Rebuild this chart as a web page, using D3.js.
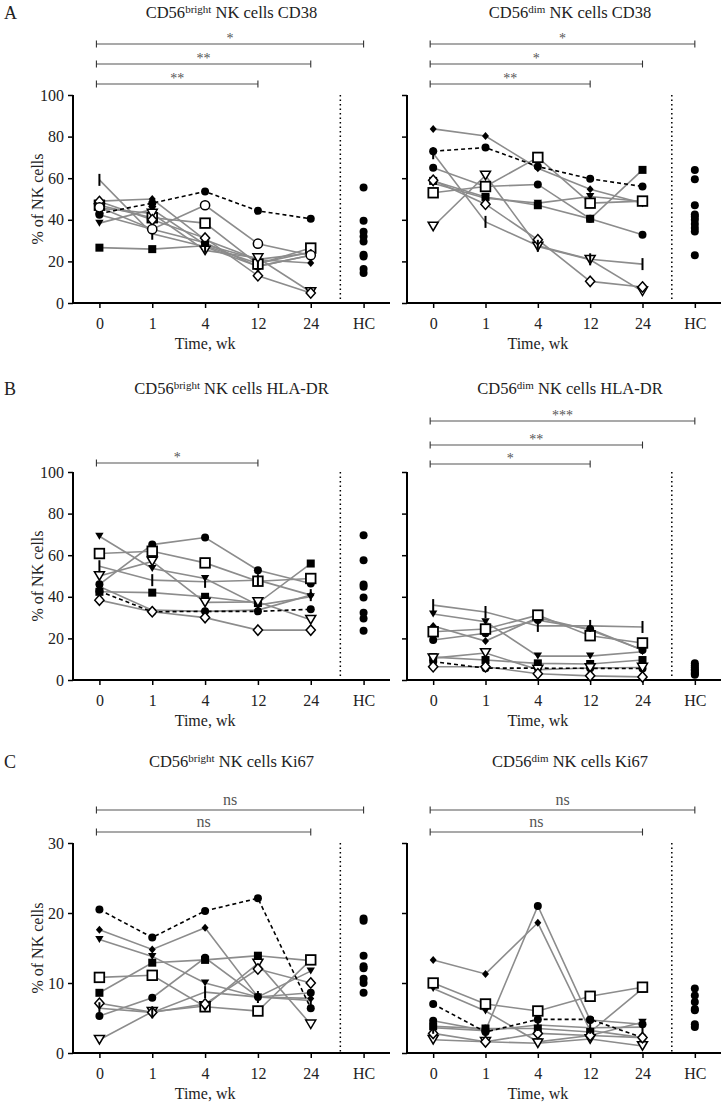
<!DOCTYPE html>
<html><head><meta charset="utf-8">
<script src="https://cdn.jsdelivr.net/npm/d3@7"></script>
<style>
body{margin:0;background:#fff;}
svg text{font-family:"Liberation Serif","Times New Roman","DejaVu Serif",serif !important;}
</style>
</head><body>
<svg id="chart" width="724" height="1102" font-family="Liberation Serif, Times New Roman, serif"></svg>
<script>
// ---------- DATA ----------
const categories = ['0','1','4','12','24','HC'];
const weeks = ['0','1','4','12','24'];
const patients = ['P1','P2','P3','P4','P5','P6','P7','P8','P9','P10'];

// values per patient at weeks 0,1,4,12,24 (null = not measured)
const cd38Bright = [
  [43, 48, 53.6, 44.3, 40.5],
  [42.4, 35.5, 29, 17.6, 23],
  [26.6, 25.9, 27.5, 19, 24.5],
  [38.4, 45, 28, 21, 24],
  [49, 50, 30.4, 20.8, 19.2],
  [47, 41, 38.4, 18.7, 26.4],
  [45.6, 43, 25.3, 21.6, 5.3],
  [48.8, 40, 31.2, 13.1, 4.8],
  [59.2, 33.3, 27, 17.6, 23],
  [46, 35.5, 47, 28.5, 23]
];
const cd38BrightHC = [55.5, 39.5, 34.2, 32, 29.6, 23.2, 22.4, 16.3, 14.4];

const cd38Dim = [
  [73, 74.7, 65.6, 59.7, 56],
  [65, 56, 57, 40.5, 32.8],
  [58.7, 51, 47, 40.5, 64],
  [57.6, 50.4, 48, 51.2, 48.8],
  [83.7, 80.3, 64.8, 54.7, 48],
  [53, 56, 70, 48, 49],
  [36.8, 61.3, 27.2, 20.8, 5.6],
  [59, 47.5, 30.4, 10.4, 7.7],
  [72, 39, 27.5, 21, 18.7],
  null
];
const cd38DimHC = [64, 59.5, 47, 42.5, 41.5, 40, 38, 36, 34.4, 23];

const hladrBright = [
  [42.7, 32.8, 33, 33, 34],
  [46, 65.1, 68.5, 52.8, 46.4],
  [42.4, 42, 40, 37, 56],
  [69.1, 53.6, 48.8, 36, 40],
  [45, 33.6, 33, 33.6, 40.8],
  [60.8, 61.9, 56.3, 47.5, 48.8],
  [50, 57, 37.3, 37.5, 29],
  [38.4, 32.8, 30, 24, 24],
  [54.7, 48, 47.2, 48, 40.8],
  null
];
const hladrBrightHC = [69.6, 57.6, 45.9, 44.8, 39.7, 32.3, 29.6, 23.7];

const hladrDim = [
  [8.8, 5.7, 5.7, 5.6, 5.5],
  [19.2, 22.5, 28.8, 24.5, 14.4],
  [11, 9.6, 8, 7.7, 9.6],
  [31.7, 28, 11.5, 11.5, 13.6],
  [26, 18.7, 30, 24, 14.4],
  [23.2, 24.5, 31.2, 21.3, 17.8],
  [10.5, 13, 5, 5.8, 6],
  [6.4, 6.4, 3, 2, 1.5],
  [36, 32.7, 26, 26, 25.5],
  null
];
const hladrDimHC = [8, 7, 6, 5, 4.5, 3.5, 3, 2.5];

const ki67Bright = [
  [20.5, 16.5, 20.3, 22.1, 6.4],
  [5.3, 7.9, 13.6, 8, 8.6],
  [8.6, 12.9, 13.3, 13.9, 13.2],
  [16.2, 13.8, 10, 8, 11.7],
  [17.6, 14.8, 17.9, 8, 7.8],
  [10.8, 11.1, 6.6, 6, 13.3],
  [1.9, 5.9, 6.7, 12.8, 4.1],
  [7.1, 5.8, 7, 12, 10],
  [6.4, 5.8, 8.7, 8, 7.5],
  null
];
const ki67BrightHC = [19.2, 18.9, 13.9, 12.4, 12.1, 10.6, 10, 8.6];

const ki67Dim = [
  [7, 3, 4.8, 4.8, 2.2],
  [4.6, 3.2, 21, 4.7, 4.1],
  [3.8, 3.5, 3.5, 3, 9.2],
  [9.2, 6, 1.6, 2.5, 4.4],
  [13.3, 11.3, 18.6, 3.2, 2.2],
  [10, 7, 6, 8.1, 9.4],
  [1.9, 1.6, 1.4, 2, 1],
  [2.8, 1.6, 2.8, 2.5, 2.2],
  [3.6, 3.2, 4, 3.6, 3.7],
  null
];
const ki67DimHC = [9.2, 8.2, 7.3, 6.3, 6.1, 4.1, 3.7];

// significance comparisons: [from, to, label]
const sigCd38Bright = [['0','12','**'],['0','24','**'],['0','HC','*']];
const sigCd38Dim = [['0','12','**'],['0','24','*'],['0','HC','*']];
const sigHladrBright = [['0','12','*']];
const sigHladrDim = [['0','12','*'],['0','24','**'],['0','HC','***']];
const sigKi67Bright = [['0','24','ns'],['0','HC','ns']];
const sigKi67Dim = [['0','24','ns'],['0','HC','ns']];

const yTicks100 = [0,20,40,60,80,100];
const yTicks30 = [0,10,20,30];

// ---------- STYLE / LAYOUT ----------
const FONT = '"Liberation Serif","Times New Roman",serif';
const markerOf = {P1:'circle',P2:'circle',P3:'square',P4:'tri',P5:'diamond',P6:'oSquare',P7:'oTri',P8:'oDiamond',P9:'bar',P10:'oCircle'};
const dashedPatient = 'P1';

const rows = [
  {letter:'A', top:95, bottom:303, titleY:18, yMax:100, ticks:yTicks100, sigOff:[[-11,-31,-51],[-11,-31,-51]]},
  {letter:'B', top:472, bottom:680, titleY:394, yMax:100, ticks:yTicks100, sigOff:[[-9],[-8,-27,-51]]},
  {letter:'C', top:843, bottom:1053, titleY:767, yMax:30, ticks:yTicks30, sigOff:[[-11,-33],[-11,-33]]}
];
const cols = [{x0:73, x1:390}, {x0:407, x1:721}];

const panels = [
  {row:0,col:0,sup:'bright',tail:' NK cells CD38',data:cd38Bright,hc:cd38BrightHC,sig:sigCd38Bright},
  {row:0,col:1,sup:'dim',tail:' NK cells CD38',data:cd38Dim,hc:cd38DimHC,sig:sigCd38Dim},
  {row:1,col:0,sup:'bright',tail:' NK cells HLA-DR',data:hladrBright,hc:hladrBrightHC,sig:sigHladrBright},
  {row:1,col:1,sup:'dim',tail:' NK cells HLA-DR',data:hladrDim,hc:hladrDimHC,sig:sigHladrDim},
  {row:2,col:0,sup:'bright',tail:' NK cells Ki67',data:ki67Bright,hc:ki67BrightHC,sig:sigKi67Bright},
  {row:2,col:1,sup:'dim',tail:' NK cells Ki67',data:ki67Dim,hc:ki67DimHC,sig:sigKi67Dim}
];

const svg = d3.select('#chart');

function txt(sel) { return sel.style('font-family', FONT).attr('fill','#222'); }

function drawMarker(g, type, x, y) {
  if (type === 'circle') {
    g.append('circle').attr('cx',x).attr('cy',y).attr('r',4).attr('fill','#000');
  } else if (type === 'oCircle') {
    g.append('circle').attr('cx',x).attr('cy',y).attr('r',4.6).attr('fill','#fff').attr('stroke','#000').attr('stroke-width',1.5);
  } else if (type === 'square') {
    g.append('rect').attr('x',x-4).attr('y',y-4).attr('width',8).attr('height',8).attr('fill','#000');
  } else if (type === 'oSquare') {
    g.append('rect').attr('x',x-4.8).attr('y',y-4.8).attr('width',9.6).attr('height',9.6).attr('fill','#fff').attr('stroke','#000').attr('stroke-width',1.8);
  } else if (type === 'tri' || type === 'oTri') {
    const w = type==='tri'?4.2:5, h = type==='tri'?7:8.5;
    const p = `M${x-w},${y-h/2}L${x+w},${y-h/2}L${x},${y+h/2}Z`;
    const el = g.append('path').attr('d',p);
    if (type==='tri') el.attr('fill','#000');
    else el.attr('fill','#fff').attr('stroke','#000').attr('stroke-width',1.5);
  } else if (type === 'diamond' || type === 'oDiamond') {
    const w = type==='diamond'?3.5:4.6, h = type==='diamond'?4:5.2;
    const p = `M${x},${y-h}L${x+w},${y}L${x},${y+h}L${x-w},${y}Z`;
    const el = g.append('path').attr('d',p);
    if (type==='diamond') el.attr('fill','#000');
    else el.attr('fill','#fff').attr('stroke','#000').attr('stroke-width',1.5);
  } else if (type === 'bar') {
    g.append('line').attr('x1',x).attr('x2',x).attr('y1',y-6).attr('y2',y+6).attr('stroke','#000').attr('stroke-width',2);
  }
}

// row letters and axes titles
rows.forEach(r => {
  txt(svg.append('text').attr('x',4).attr('y',r.titleY+1).attr('font-size',18).text(r.letter));
  txt(svg.append('text')
    .attr('transform',`translate(43,${(r.top+r.bottom)/2}) rotate(-90)`)
    .attr('text-anchor','middle').attr('font-size',16).text('% of NK cells'));
});

panels.forEach(p => {
  const r = rows[p.row], c = cols[p.col];
  const x = d3.scalePoint().domain(categories).range([c.x0, c.x1]).padding(0.5);
  const y = d3.scaleLinear().domain([0, r.yMax]).range([r.bottom, r.top]);
  const g = svg.append('g');

  // title
  const t = txt(g.append('text').attr('x',(c.x0+c.x1)/2 + (p.col?6:0)).attr('y',r.titleY)
    .attr('text-anchor','middle').attr('font-size',16.5));
  t.append('tspan').text('CD56');
  t.append('tspan').attr('font-size',11).attr('dy',-5).text(p.sup);
  t.append('tspan').attr('dy',5).text(p.tail);

  // y axis
  const ya = d3.axisLeft(y).tickValues(r.ticks).tickSize(5).tickSizeOuter(0);
  if (p.col === 1) ya.tickFormat('');
  const yg = g.append('g').attr('transform',`translate(${c.x0},0)`).call(ya);
  yg.attr('font-family', null);
  yg.select('.domain').attr('stroke','#000').attr('stroke-width',2).attr('d',`M0,${r.top}V${r.bottom+1}`);
  yg.selectAll('.tick line').attr('stroke','#000').attr('stroke-width',1.5);
  txt(yg.selectAll('.tick text')).attr('font-size',16).attr('dx',-1);

  // x axis
  const xa = d3.axisBottom(x).tickSize(5).tickSizeOuter(0);
  const xg = g.append('g').attr('transform',`translate(0,${r.bottom})`).call(xa);
  xg.attr('font-family', null);
  xg.select('.domain').attr('stroke','#000').attr('stroke-width',2).attr('d',`M${c.x0-1},0H${c.x1}`);
  xg.selectAll('.tick line').attr('stroke','#000').attr('stroke-width',1.5);
  txt(xg.selectAll('.tick text')).attr('font-size',16).attr('dy','1.15em');
  txt(g.append('text').attr('x',(x('0')+x('24'))/2).attr('y',r.bottom+46)
    .attr('text-anchor','middle').attr('font-size',16).text('Time, wk'));

  // dotted separator
  const sepX = x('24') + x.step()*0.56;
  g.append('line').attr('x1',sepX).attr('x2',sepX).attr('y1',r.top).attr('y2',r.bottom)
    .attr('stroke','#000').attr('stroke-width',1.5).attr('stroke-dasharray','1.5,3');

  // significance bars
  p.sig.forEach((s,i) => {
    const by = r.top + r.sigOff[p.col][i];
    const xa0 = x(s[0])-3, xa1 = x(s[1]);
    g.append('line').attr('x1',xa0).attr('x2',xa1).attr('y1',by).attr('y2',by).attr('stroke','#555').attr('stroke-width',1.1);
    [xa0,xa1].forEach(xx => g.append('line').attr('x1',xx).attr('x2',xx).attr('y1',by-3.5).attr('y2',by+3.5).attr('stroke','#333').attr('stroke-width',1.1));
    const isNs = s[2]==='ns';
    txt(g.append('text').attr('x',(xa0+xa1)/2).attr('y',isNs?by-5:by-1).attr('text-anchor','middle')
      .attr('font-size',isNs?16:14).text(s[2])).attr('fill','#555');
  });

  // lines
  const line = d3.line().defined(d => d != null).x((d,i) => x(weeks[i])).y(d => y(d));
  patients.forEach((pid,k) => {
    const vals = p.data[k];
    if (!vals || pid === dashedPatient) return;
    g.append('path').attr('d',line(vals)).attr('fill','none').attr('stroke','#8c8c8c').attr('stroke-width',1.6);
  });
  const dv = p.data[patients.indexOf(dashedPatient)];
  g.append('path').attr('d',line(dv)).attr('fill','none').attr('stroke','#000').attr('stroke-width',1.6).attr('stroke-dasharray','4,3');

  // markers
  patients.forEach((pid,k) => {
    const vals = p.data[k];
    if (!vals) return;
    vals.forEach((v,i) => { if (v!=null) drawMarker(g, markerOf[pid], x(weeks[i]), y(v)); });
  });

  // healthy controls
  p.hc.forEach(v => drawMarker(g,'circle',x('HC'),y(v)));
});
</script>
</body></html>
